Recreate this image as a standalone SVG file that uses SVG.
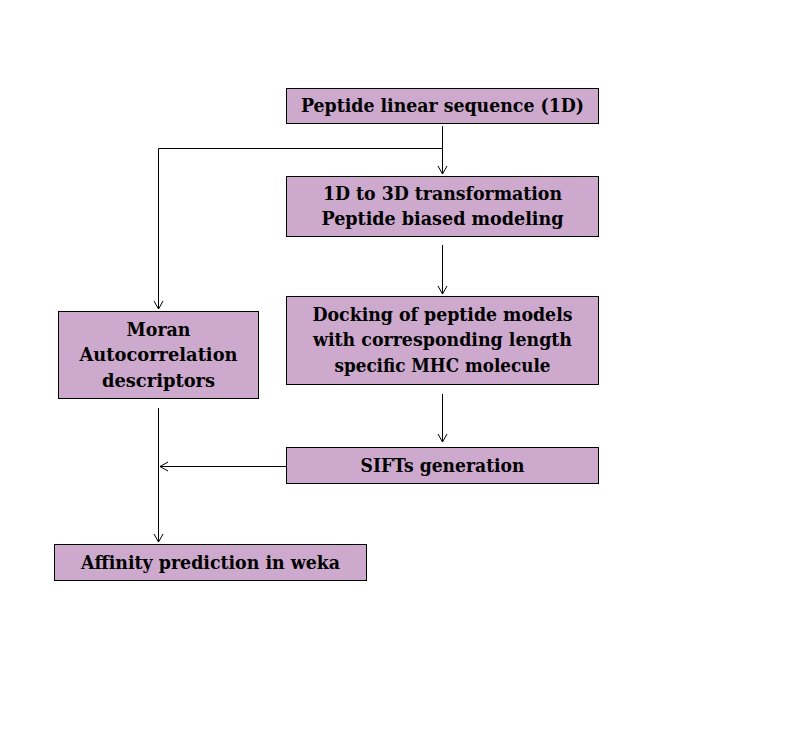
<svg xmlns="http://www.w3.org/2000/svg" width="790" height="730" viewBox="0 0 790 730">
<defs>
<style>
.box{fill:#cda9cd;stroke:#000;stroke-width:1}
.t{font-family:"DejaVu Serif Condensed","Liberation Serif","Times New Roman",serif;font-weight:bold;font-size:19px;fill:#000;text-anchor:middle}
.c{fill:none;stroke:#000;stroke-width:1}
</style>
<marker id="ah" markerWidth="12" markerHeight="12" refX="10" refY="6" orient="auto" markerUnits="userSpaceOnUse">
<path d="M2,1.5 L10,6 L2,10.5" fill="none" stroke="#000" stroke-width="1"/>
</marker>
</defs>
<rect width="790" height="730" fill="#fff"/>
<g id="connectors">
<path class="c" d="M442.5,126 V174" marker-end="url(#ah)"/>
<path class="c" d="M442.5,148.5 H158.5 V309"/>
<path class="c" d="M158.5,300 V309" marker-end="url(#ah)"/>
<path class="c" d="M442.5,245 V294" marker-end="url(#ah)"/>
<path class="c" d="M442.5,394 V442" marker-end="url(#ah)"/>
<path class="c" d="M286,466.5 H160" marker-end="url(#ah)"/>
<path class="c" d="M158.5,408 V542" marker-end="url(#ah)"/>
</g>
<g id="n1"><rect class="box" x="286.5" y="88.5" width="312" height="35"/>
<text class="t" x="442.5" y="112" textLength="283" lengthAdjust="spacingAndGlyphs">Peptide linear sequence (1D)</text></g>
<g id="n2"><rect class="box" x="286.5" y="176.5" width="312" height="60"/>
<text class="t" x="442.5" y="200" textLength="239" lengthAdjust="spacingAndGlyphs">1D to 3D transformation</text>
<text class="t" x="442.5" y="225" textLength="242" lengthAdjust="spacingAndGlyphs">Peptide biased modeling</text></g>
<g id="n3"><rect class="box" x="286.5" y="296.5" width="312" height="88"/>
<text class="t" x="442.5" y="321" textLength="260" lengthAdjust="spacingAndGlyphs">Docking of peptide models</text>
<text class="t" x="442.5" y="346" textLength="259" lengthAdjust="spacingAndGlyphs">with corresponding length</text>
<text class="t" x="442.5" y="372" textLength="216" lengthAdjust="spacingAndGlyphs">specific MHC molecule</text></g>
<g id="n4"><rect class="box" x="286.5" y="447.5" width="312" height="36"/>
<text class="t" x="442.5" y="472" textLength="164" lengthAdjust="spacingAndGlyphs">SIFTs generation</text></g>
<g id="n5"><rect class="box" x="58.5" y="311.5" width="200" height="87"/>
<text class="t" x="158.5" y="336" textLength="64" lengthAdjust="spacingAndGlyphs">Moran</text>
<text class="t" x="158.5" y="361" textLength="158" lengthAdjust="spacingAndGlyphs">Autocorrelation</text>
<text class="t" x="158.5" y="387" textLength="113" lengthAdjust="spacingAndGlyphs">descriptors</text></g>
<g id="n6"><rect class="box" x="54.5" y="544.5" width="312" height="36"/>
<text class="t" x="210.5" y="569" textLength="259" lengthAdjust="spacingAndGlyphs">Affinity prediction in weka</text></g>
</svg>
